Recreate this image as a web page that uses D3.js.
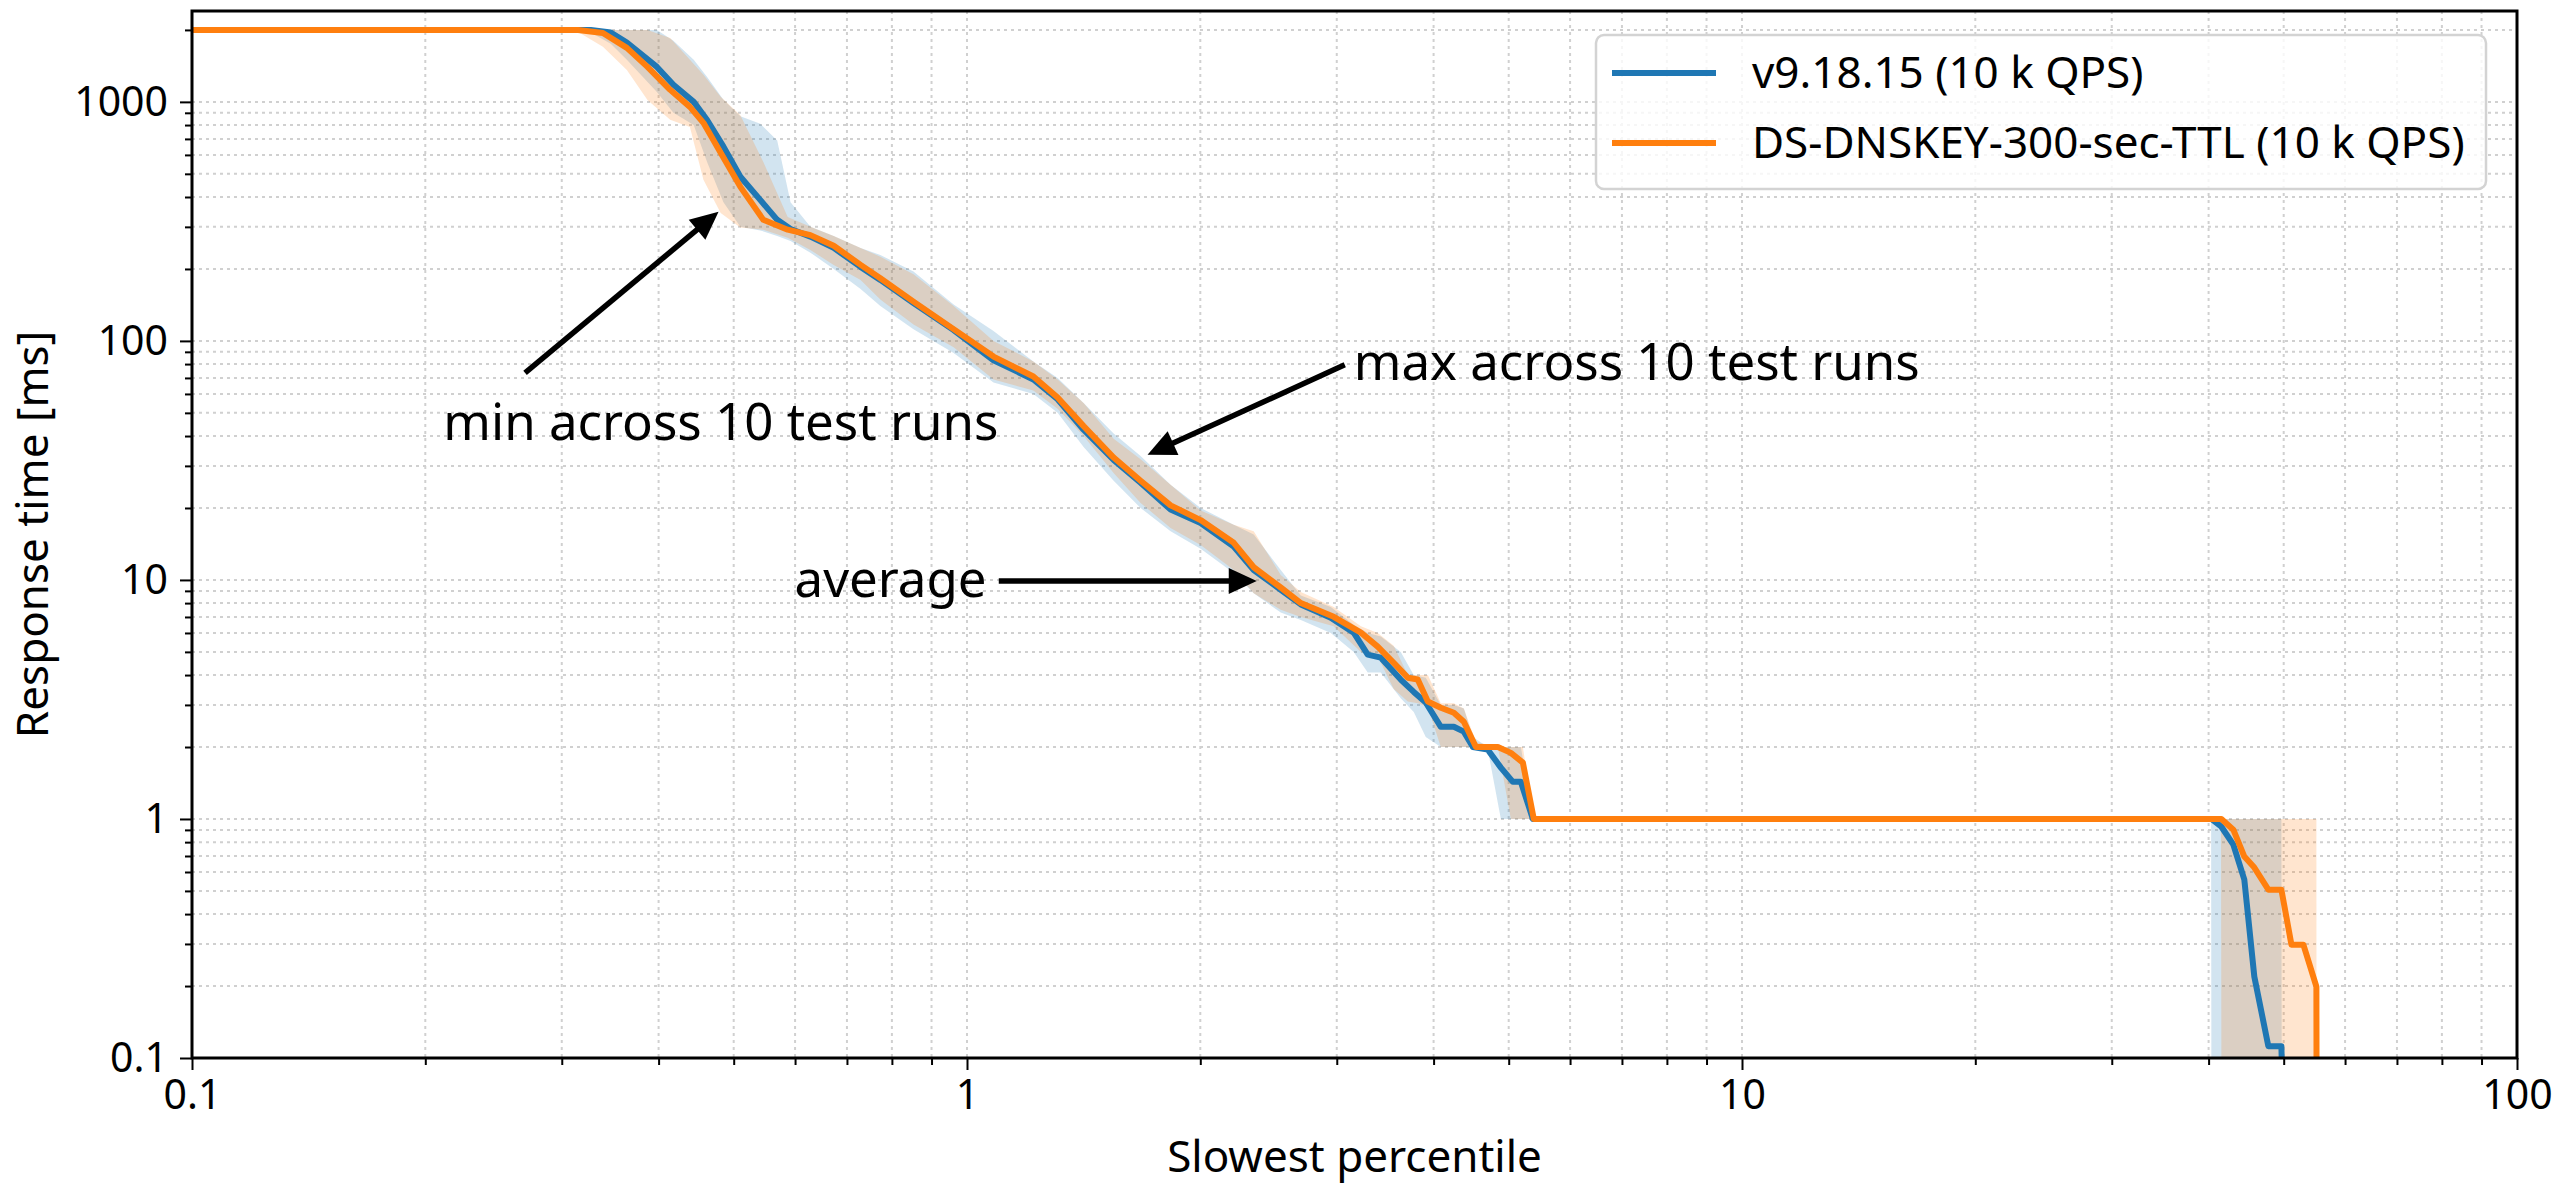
<!DOCTYPE html>
<html>
<head>
<meta charset="utf-8">
<script src="https://cdn.jsdelivr.net/npm/d3@7"></script>
<style>
  body { margin: 0; background: #fff; }
  text { font-family: "Noto Sans", sans-serif; fill: #000; }
</style>
</head>
<body>
<svg id="chart"></svg>
<script>
const W = 2555, H = 1187
const margin = { top: 11, right: 38, bottom: 129, left: 192 }

// v9.18.15: slowest percentile -> response time (ms), mean / min / max of 10 runs
const blueX = [0.1, 0.3, 0.327, 0.347, 0.364, 0.398, 0.418, 0.444, 0.462, 0.485, 0.51, 0.541, 0.569, 0.592, 0.628, 0.673, 0.729, 0.773, 0.853, 0.961, 1.082, 1.218, 1.309, 1.414, 1.546, 1.675, 1.831, 2.002, 2.209, 2.344, 2.54, 2.696, 2.947, 3.155, 3.289, 3.419, 3.628, 3.771, 3.908, 4.087, 4.248, 4.376, 4.495, 4.699, 4.885, 5.062, 5.184, 5.372, 40.3, 40.33, 41.55, 43.05, 44.48, 45.82, 47.77, 49.66, 49.7]
const blueMean = [2000, 2000, 2000, 1950, 1770, 1400, 1180, 1000, 840, 650, 486, 389, 321, 294, 273, 245, 204, 180, 144, 111, 83, 69, 57, 42.5, 31.8, 25.5, 19.7, 17.3, 13.8, 11.0, 9.1, 7.9, 6.95, 6.02, 4.87, 4.73, 3.83, 3.4, 3.07, 2.43, 2.43, 2.32, 2.0, 1.95, 1.64, 1.43, 1.43, 1.0, 1, 1, 0.928, 0.781, 0.557, 0.219, 0.112, 0.112, 0.1]
const blueMin = [2000, 2000, 1950, 1750, 1500, 1100, 900, 800, 560, 380, 300, 290, 275, 262, 234, 200, 165, 140, 112, 89, 67, 60, 50, 36, 26, 20, 16, 13.5, 10.7, 8.8, 7.3, 6.8, 6.0, 5.0, 4.1, 4.1, 3.2, 2.8, 2.2, 2.0, 2.0, 2.0, 2.0, 1.95, 1.0, 1.0, 1.0, 1.0, 1, 0.1, 0.1, 0.1, 0.1, 0.1, 0.1, 0.1, 0.1]
const blueMax = [2000, 2000, 2000, 2000, 2000, 2000, 1800, 1500, 1270, 1020, 870, 810, 690, 380, 300, 275, 245, 229, 195, 142, 110, 82, 70, 55, 41, 33, 25, 20, 17, 15.5, 11, 8.6, 7.7, 6.5, 6.0, 5.8, 5.0, 4.0, 3.9, 3.0, 3.0, 2.9, 2.2, 2.0, 2.0, 2.0, 2.0, 1.0, 1, 1, 1, 1, 1, 1, 1, 1, 0.1]

// DS-DNSKEY-300-sec-TTL
const orangeX = [0.1, 0.3, 0.315, 0.339, 0.364, 0.387, 0.414, 0.439, 0.457, 0.481, 0.51, 0.546, 0.587, 0.628, 0.673, 0.729, 0.773, 0.853, 0.961, 1.082, 1.218, 1.309, 1.414, 1.546, 1.675, 1.831, 2.002, 2.209, 2.344, 2.54, 2.696, 2.973, 3.223, 3.388, 3.553, 3.705, 3.816, 3.932, 4.087, 4.248, 4.376, 4.536, 4.842, 5.032, 5.215, 5.387, 41.5, 41.55, 43.05, 44.48, 45.82, 47.77, 49.66, 51.16, 53.01, 55.1, 55.12]
const orangeMean = [2000, 2000, 2000, 1942, 1682, 1401, 1123, 953, 817, 612, 441, 321, 292, 277, 250, 208, 183, 146, 112, 86, 71, 58, 44, 32.5, 26, 20.5, 17.8, 14.3, 11.3, 9.3, 8.0, 7.01, 6.02, 5.26, 4.50, 3.9, 3.83, 3.10, 2.92, 2.78, 2.55, 2.0, 2.0, 1.89, 1.72, 1.0, 1, 1, 0.902, 0.696, 0.626, 0.506, 0.506, 0.298, 0.298, 0.199, 0.1]
const orangeMin = [2000, 2000, 1960, 1700, 1361, 1019, 841, 786, 472, 343, 298, 292, 270, 240, 208, 180, 149, 117, 94, 69, 62, 52, 40, 28, 21, 16.5, 14, 11, 8.8, 7.5, 7.0, 6.4, 5.0, 4.8, 3.5, 3.1, 3.05, 2.95, 2.0, 2.0, 2.0, 2.0, 2.0, 1.0, 1.0, 1.0, 1, 0.1, 0.1, 0.1, 0.1, 0.1, 0.1, 0.1, 0.1, 0.1, 0.1]
const orangeMax = [2000, 2000, 2000, 2000, 2000, 2000, 1850, 1500, 1300, 1050, 880, 560, 330, 300, 275, 245, 225, 190, 140, 100, 82, 69, 55, 39, 32, 25, 19.5, 17, 16, 10.5, 8.9, 7.7, 6.4, 6.0, 5.3, 4.0, 4.0, 4.0, 3.05, 3.05, 2.9, 2.1, 2.0, 2.0, 2.0, 1.0, 1, 1, 1, 1, 1, 1, 1, 1, 1, 1, 0.1]

const seriesNames = ['v9.18.15 (10 k QPS)', 'DS-DNSKEY-300-sec-TTL (10 k QPS)']
const xTickValues = [0.1, 1, 10, 100]
const yTickValues = [0.1, 1, 10, 100, 1000]

// annotations, in data coordinates [percentile, ms]
const noteText = ['min across 10 test runs', 'max across 10 test runs', 'average']
const noteAt = [[0.211, 38.6], [3.155, 68.8], [1.06, 8.5]]
const noteAnchor = ['start', 'start', 'end']
const arrowFrom = [[0.269, 73.5], [3.072, 79.4], [1.099, 9.9]]
const arrowTo = [[0.478, 347], [1.71, 33.4], [2.365, 9.9]]

const svg = d3.select('#chart').attr('width', W).attr('height', H)

const x = d3.scaleLog().domain([0.1, 100]).range([margin.left, W - margin.right])
const y = d3.scaleLog().domain([0.1, 2400]).range([H - margin.bottom, margin.top]).clamp(true)
const plotW = W - margin.left - margin.right
const plotH = H - margin.top - margin.bottom

// 1..9 x each decade, for grid and minor ticks
function logSteps(lo, hi) {
    let out = []
    for (let e = -1; e <= 3; e++) {
        for (let k = 1; k <= 9; k++) {
            let v = +(k * Math.pow(10, e)).toPrecision(3)
            if (v >= lo && v <= hi) out.push(v)
        }
    }
    return out
}
const xSteps = logSteps(0.1, 100)
const ySteps = logSteps(0.1, 2400)

svg.append('defs').append('clipPath').attr('id', 'plot-clip')
    .append('rect')
    .attr('x', margin.left).attr('y', margin.top)
    .attr('width', plotW).attr('height', plotH)

// grid
let grid = svg.append('g').attr('class', 'grid')
    .style('stroke', '#d0d0d0')
    .style('stroke-width', 2)
    .style('stroke-dasharray', '3,4')

grid.selectAll('line.gx')
    .data(xSteps)
    .join('line')
    .attr('class', 'gx')
    .attr('x1', d => x(d)).attr('x2', d => x(d))
    .attr('y1', margin.top).attr('y2', H - margin.bottom)

grid.selectAll('line.gy')
    .data(ySteps)
    .join('line')
    .attr('class', 'gy')
    .attr('y1', d => y(d)).attr('y2', d => y(d))
    .attr('x1', margin.left).attr('x2', W - margin.right)

const series = [
    { name: seriesNames[0], color: '#1f77b4', xs: blueX, mean: blueMean, lo: blueMin, hi: blueMax },
    { name: seriesNames[1], color: '#ff7f0e', xs: orangeX, mean: orangeMean, lo: orangeMin, hi: orangeMax }
]
series.forEach(s => {
    s.points = s.xs.map((p, i) => ({ p: p, m: s.mean[i], lo: s.lo[i], hi: s.hi[i] }))
})

let area = d3.area()
    .x(d => x(d.p))
    .y0(d => y(d.lo))
    .y1(d => y(d.hi))

let line = d3.line()
    .x(d => x(d.p))
    .y(d => y(d.m))

let plot = svg.append('g').attr('clip-path', 'url(#plot-clip)')

plot.selectAll('path.band')
    .data(series)
    .join('path')
    .attr('class', 'band')
    .attr('d', d => area(d.points))
    .style('fill', d => d.color)
    .style('fill-opacity', 0.2)
    .style('stroke', 'none')

plot.selectAll('path.avg')
    .data(series)
    .join('path')
    .attr('class', 'avg')
    .attr('d', d => line(d.points))
    .style('fill', 'none')
    .style('stroke', d => d.color)
    .style('stroke-width', 6)
    .style('stroke-linejoin', 'round')

// axes
let xAxis = svg.append('g')
    .attr('transform', `translate(0,${H - margin.bottom})`)
    .call(d3.axisBottom(x).tickValues(xTickValues).tickFormat(d => String(d)).tickSize(12).tickPadding(10))
let xMinor = svg.append('g')
    .attr('transform', `translate(0,${H - margin.bottom})`)
    .call(d3.axisBottom(x).tickValues(xSteps.filter(v => !xTickValues.includes(v))).tickFormat('').tickSize(7))
let yAxis = svg.append('g')
    .attr('transform', `translate(${margin.left},0)`)
    .call(d3.axisLeft(y).tickValues(yTickValues).tickFormat(d => String(d)).tickSize(12).tickPadding(12))
let yMinor = svg.append('g')
    .attr('transform', `translate(${margin.left},0)`)
    .call(d3.axisLeft(y).tickValues(ySteps.filter(v => !yTickValues.includes(v))).tickFormat('').tickSize(7))

;[xAxis, xMinor, yAxis, yMinor].forEach(g => {
    g.select('.domain').remove()
    g.selectAll('line').style('stroke', '#000').style('stroke-width', 2)
    g.selectAll('text').style('font-size', '41px').style('font-family', '"Noto Sans", sans-serif')
})

svg.append('rect')
    .attr('x', margin.left).attr('y', margin.top)
    .attr('width', plotW).attr('height', plotH)
    .style('fill', 'none')
    .style('stroke', '#000')
    .style('stroke-width', 3)

svg.append('text')
    .attr('x', margin.left + plotW / 2)
    .attr('y', 1172)
    .attr('text-anchor', 'middle')
    .style('font-size', '44px')
    .text('Slowest percentile')

svg.append('text')
    .attr('transform', `translate(48,${margin.top + plotH / 2}) rotate(-90)`)
    .attr('text-anchor', 'middle')
    .style('font-size', '44px')
    .text('Response time [ms]')

// annotations with arrows
let notes = svg.append('g').attr('class', 'notes')
noteText.forEach((t, i) => {
    notes.append('text')
        .attr('x', x(noteAt[i][0]))
        .attr('y', y(noteAt[i][1]))
        .attr('text-anchor', noteAnchor[i])
        .style('font-size', '51px')
        .text(t)

    let x0 = x(arrowFrom[i][0]), y0 = y(arrowFrom[i][1])
    let x1 = x(arrowTo[i][0]), y1 = y(arrowTo[i][1])
    let len = Math.hypot(x1 - x0, y1 - y0)
    let ux = (x1 - x0) / len, uy = (y1 - y0) / len
    let head = 28, half = 13
    let bx = x1 - ux * head, by = y1 - uy * head
    notes.append('line')
        .attr('x1', x0).attr('y1', y0)
        .attr('x2', bx + ux * 4).attr('y2', by + uy * 4)
        .style('stroke', '#000')
        .style('stroke-width', 5.5)
    notes.append('path')
        .attr('d', `M${x1},${y1}L${bx - uy * half},${by + ux * half}L${bx + uy * half},${by - ux * half}Z`)
        .style('fill', '#000')
})

// legend
let legend = svg.append('g').attr('class', 'legend')
legend.append('rect')
    .attr('x', 1596).attr('y', 35)
    .attr('width', 890).attr('height', 154)
    .attr('rx', 8)
    .style('fill', '#fff')
    .style('fill-opacity', 0.8)
    .style('stroke', '#d3d3d3')
    .style('stroke-width', 2.5)

let rows = legend.selectAll('g.row')
    .data(series)
    .join('g')
    .attr('class', 'row')
    .attr('transform', (d, i) => `translate(1612,${73 + i * 70})`)

rows.append('line')
    .attr('x1', 0).attr('x2', 104)
    .style('stroke', d => d.color)
    .style('stroke-width', 6)

rows.append('text')
    .attr('x', 140)
    .attr('dy', '0.35em')
    .style('font-size', '44px')
    .text(d => d.name)
</script>
</body>
</html>
